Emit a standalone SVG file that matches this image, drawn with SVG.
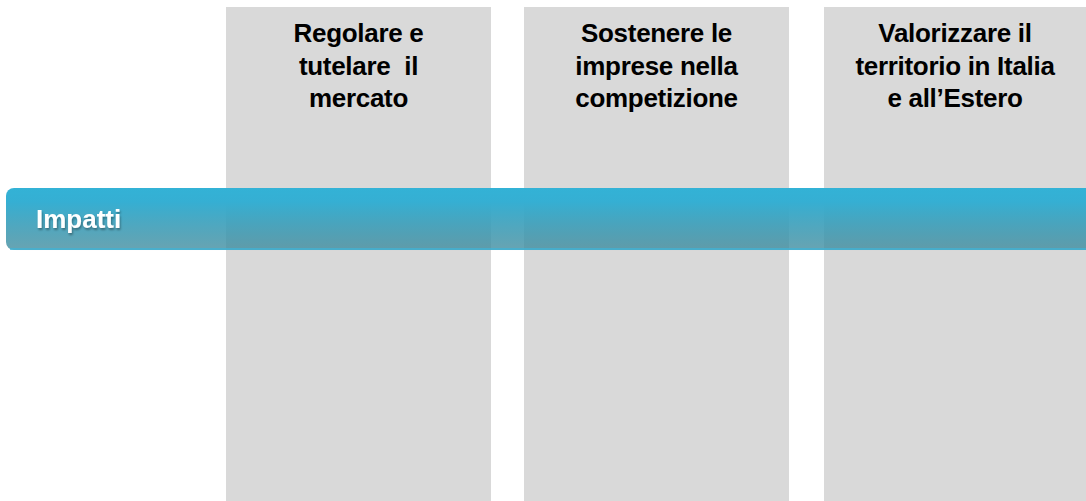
<svg xmlns="http://www.w3.org/2000/svg" width="1086" height="501" viewBox="0 0 1086 501">
<defs>
<style>
.col{fill:#d9d9d9}
.t{font-family:"Liberation Sans",Arial,sans-serif;font-weight:bold;font-size:26px;fill:#000;text-anchor:middle;letter-spacing:-0.3px}
.lbl{font-family:"Liberation Sans",Arial,sans-serif;font-weight:bold;font-size:26px;fill:#fff;letter-spacing:0px}
</style>
<linearGradient id="barg" x1="0" y1="0" x2="0" y2="1">
<stop offset="0" stop-color="#33b2d6" stop-opacity="1"/>
<stop offset="0.22" stop-color="#35afd3" stop-opacity="1"/>
<stop offset="1" stop-color="#3e8a9c" stop-opacity="0.78"/>
</linearGradient>
<filter id="sh" x="-5%" y="-30%" width="110%" height="180%">
<feGaussianBlur in="SourceAlpha" stdDeviation="3"/>
<feOffset dx="0" dy="4" result="b"/>
<feComponentTransfer><feFuncA type="linear" slope="0.45"/></feComponentTransfer>
<feMerge><feMergeNode/><feMergeNode in="SourceGraphic"/></feMerge>
</filter>
<filter id="tsh" x="-10%" y="-30%" width="120%" height="160%">
<feGaussianBlur in="SourceAlpha" stdDeviation="1.2"/>
<feOffset dx="1" dy="1.5"/>
<feComponentTransfer><feFuncA type="linear" slope="0.35"/></feComponentTransfer>
<feMerge><feMergeNode/><feMergeNode in="SourceGraphic"/></feMerge>
</filter>
</defs>
<g id="col1">
<rect class="col" x="226" y="7" width="265" height="494"/>
<text class="t" x="358.5" y="42">Regolare e</text>
<text class="t" x="358.5" y="75" xml:space="preserve">tutelare  il</text>
<text class="t" x="358.5" y="107">mercato</text>
</g>
<g id="col2">
<rect class="col" x="524" y="7" width="265" height="494"/>
<text class="t" x="656.5" y="42">Sostenere le</text>
<text class="t" x="656.5" y="75">imprese nella</text>
<text class="t" x="656.5" y="107">competizione</text>
</g>
<g id="col3">
<rect class="col" x="824" y="7" width="262" height="494"/>
<text class="t" x="955" y="42">Valorizzare il</text>
<text class="t" x="955" y="75">territorio in Italia</text>
<text class="t" x="955" y="107">e all’Estero</text>
</g>
<g id="impatti">
<path d="M14 188 H1086 V250 H14 A8 8 0 0 1 6 242 V196 A8 8 0 0 1 14 188 Z" fill="#ffffff" fill-opacity="0.01" filter="url(#sh)"/>
<path d="M14 188 H1086 V250 H14 A8 8 0 0 1 6 242 V196 A8 8 0 0 1 14 188 Z" fill="url(#barg)"/>
<line x1="10" y1="249" x2="1086" y2="249" stroke="#3fb3d6" stroke-width="1.5"/>
<text class="lbl" x="36" y="228" filter="url(#tsh)">Impatti</text>
</g>
<g id="connectors"/>
</svg>
